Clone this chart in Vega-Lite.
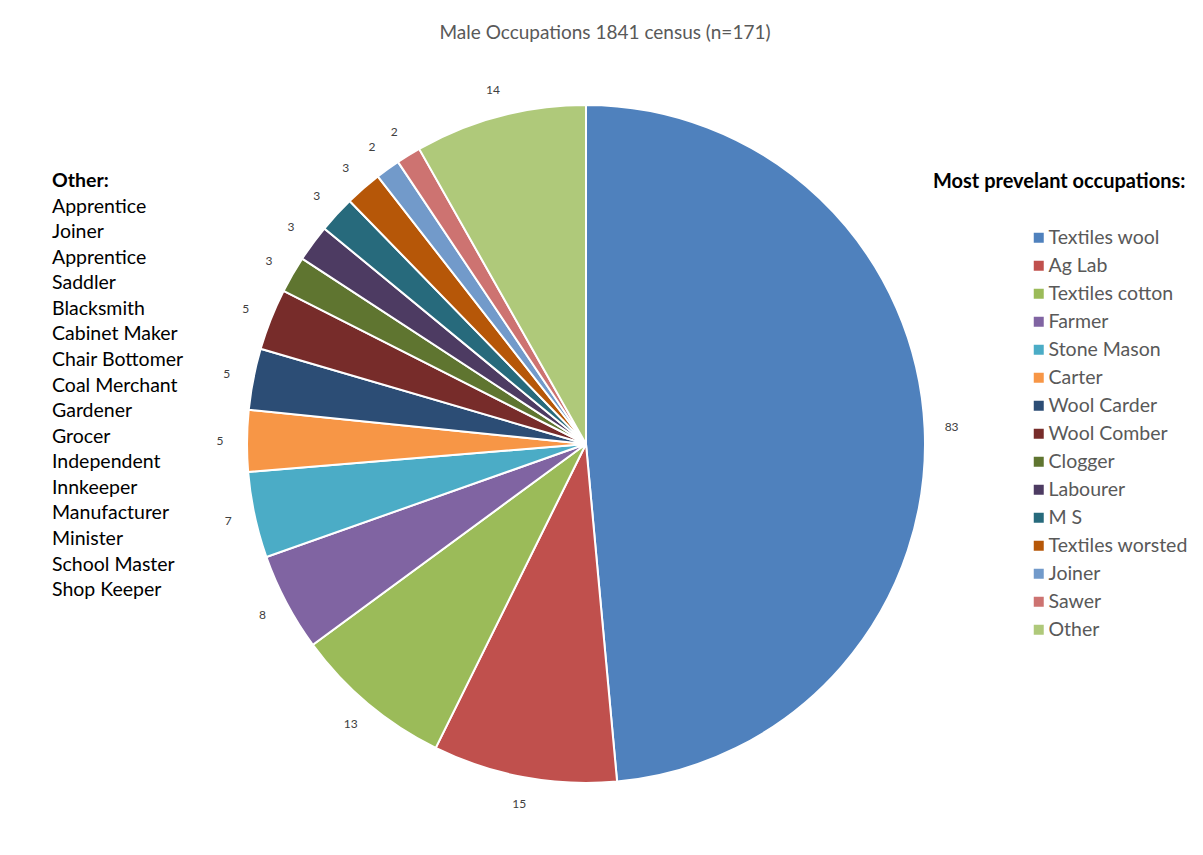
{
  "$schema": "https://vega.github.io/schema/vega-lite/v6.json",
  "background": "white",
  "padding": {"left": 52, "top": 24, "right": 0, "bottom": 0},
  "title": {"text": "Male Occupations 1841 census (n=171)", "font": "Lato", "fontSize": 19, "fontWeight": "normal", "color": "#595959", "anchor": "middle", "offset": 21, "dx": -15},
  "datasets": {
    "occ": [
      {"occ": "Textiles wool", "n": 83, "k": 1},
      {"occ": "Ag Lab", "n": 15, "k": 2},
      {"occ": "Textiles cotton", "n": 13, "k": 3},
      {"occ": "Farmer", "n": 8, "k": 4},
      {"occ": "Stone Mason", "n": 7, "k": 5},
      {"occ": "Carter", "n": 5, "k": 6},
      {"occ": "Wool Carder", "n": 5, "k": 7},
      {"occ": "Wool Comber", "n": 5, "k": 8},
      {"occ": "Clogger", "n": 3, "k": 9},
      {"occ": "Labourer", "n": 3, "k": 10},
      {"occ": "M S", "n": 3, "k": 11},
      {"occ": "Textiles worsted", "n": 3, "k": 12},
      {"occ": "Joiner", "n": 2, "k": 13},
      {"occ": "Sawer", "n": 2, "k": 14},
      {"occ": "Other", "n": 14, "k": 15}
    ],
    "other": [
      {"item": "Other:", "rank": 0},
      {"item": "Apprentice", "rank": 1},
      {"item": "Joiner", "rank": 2},
      {"item": "Apprentice", "rank": 3},
      {"item": "Saddler", "rank": 4},
      {"item": "Blacksmith", "rank": 5},
      {"item": "Cabinet Maker", "rank": 6},
      {"item": "Chair Bottomer", "rank": 7},
      {"item": "Coal Merchant", "rank": 8},
      {"item": "Gardener", "rank": 9},
      {"item": "Grocer", "rank": 10},
      {"item": "Independent", "rank": 11},
      {"item": "Innkeeper", "rank": 12},
      {"item": "Manufacturer", "rank": 13},
      {"item": "Minister", "rank": 14},
      {"item": "School Master", "rank": 15},
      {"item": "Shop Keeper", "rank": 16}
    ]
  },
  "spacing": 14,
  "hconcat": [
    {
      "width": 140,
      "height": 760,
      "data": {"name": "other"},
      "encoding": {
        "y": {"field": "rank", "type": "quantitative", "axis": null, "scale": {"domain": [-4.58, 25.15], "reverse": true, "nice": false, "zero": false}},
        "x": {"datum": 0, "type": "quantitative", "axis": null, "scale": {"domain": [0, 1]}},
        "text": {"field": "item"}
      },
      "layer": [
        {"transform": [{"filter": "datum.rank == 0"}], "mark": {"type": "text", "align": "left", "baseline": "middle", "font": "Lato", "fontSize": 19.5, "fontWeight": "bold", "color": "black"}},
        {"transform": [{"filter": "datum.rank > 0"}], "mark": {"type": "text", "align": "left", "baseline": "middle", "font": "Lato", "fontSize": 19.5, "color": "black"}}
      ]
    },
    {
      "width": 760,
      "height": 760,
      "data": {"name": "occ"},
      "encoding": {
        "theta": {"field": "n", "type": "quantitative", "stack": true},
        "order": {"field": "k", "type": "quantitative"}
      },
      "layer": [
        {
          "mark": {"type": "arc", "outerRadius": 339, "stroke": "white", "strokeWidth": 2},
          "encoding": {
            "color": {
              "field": "occ", "type": "nominal",
              "scale": {
                "domain": ["Textiles wool", "Ag Lab", "Textiles cotton", "Farmer", "Stone Mason", "Carter", "Wool Carder", "Wool Comber", "Clogger", "Labourer", "M S", "Textiles worsted", "Joiner", "Sawer", "Other"],
                "range": ["#4F81BD", "#C0504D", "#9BBB59", "#8064A2", "#4BACC6", "#F79646", "#2C4D75", "#772C2A", "#5F7530", "#4D3B62", "#276A7C", "#B65708", "#729ACA", "#CD7371", "#AFC97A"]
              },
              "legend": {
                "title": "Most prevelant occupations:",
                "orient": "none", "legendX": 881, "legendY": 108,
                "titleFont": "Lato", "titleFontSize": 20, "titleFontWeight": "bold", "titleColor": "black", "titleLimit": 400, "titlePadding": 36,
                "labelFont": "Lato", "labelFontSize": 19.5, "labelColor": "#595959", "labelLimit": 300, "labelOffset": 0,
                "symbolType": "square", "symbolSize": 100, "symbolStrokeWidth": 0, "symbolOffset": 96,
                "rowPadding": 7
              }
            }
          }
        },
        {
          "mark": {"type": "text", "radius": 366, "font": "Lato", "fontSize": 12, "fill": "#404040", "color": "#404040"},
          "encoding": {
            "detail": {"field": "occ"},
            "text": {"field": "n", "type": "quantitative"}
          }
        }
      ]
    }
  ],
  "config": {"view": {"stroke": null}}
}
